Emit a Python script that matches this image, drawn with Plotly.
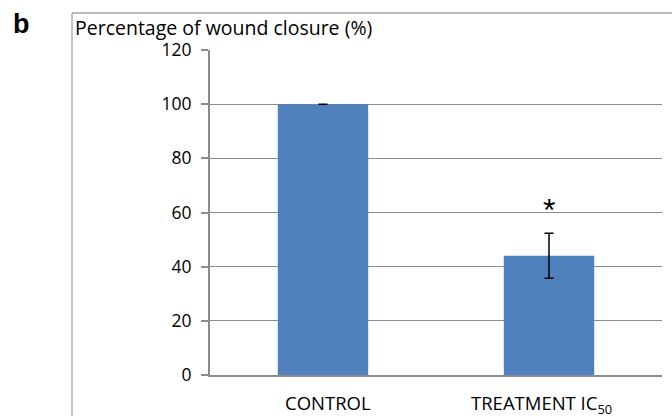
import plotly.graph_objects as go

# dados
categorias = ["CONTROL", "TREATMENT IC<sub>50</sub>"]
valores = [100, 44]
erros = [0, 8.3]
y_ticks = [0, 20, 40, 60, 80, 100, 120]
asterisco_y = 61

fig = go.Figure()

fig.add_trace(go.Bar(
    x=categorias,
    y=valores,
    width=0.4,
    marker=dict(color='#4F81BD', line=dict(width=0)),
    error_y=dict(type='data', array=erros, visible=True,
                 color='black', thickness=1.5, width=4.5),
    showlegend=False
))

# rótulos das categorias (como no Excel, ligeiramente deslocados)
for cat, dx in zip(categorias, [5, -8]):
    fig.add_annotation(x=cat, xref='x', yref='paper', y=-0.041, text=cat,
                       showarrow=False, xshift=dx, yanchor='top',
                       font=dict(size=18.5, color='black', family='Open Sans'))

# asterisco de significância
fig.add_annotation(x=categorias[1], y=asterisco_y, text="*", showarrow=False,
                   font=dict(size=32, color='black', family='Liberation Sans'),
                   yanchor='middle')

# letra do painel e título do eixo
fig.add_annotation(xref='paper', yref='paper', x=-0.44, y=1.08, text="<b>b</b>",
                   showarrow=False, xanchor='left', yanchor='middle',
                   font=dict(size=27, color='black', family='Liberation Sans'))
fig.add_annotation(xref='paper', yref='paper', x=-0.302, y=1.07,
                   text="Percentage of wound closure (%)",
                   showarrow=False, xanchor='left', yanchor='middle',
                   font=dict(size=19.5, color='black', family='Open Sans'))

# moldura (esquerda e topo)
fig.add_shape(type='line', xref='paper', yref='paper',
              x0=-0.3053, x1=-0.3053, y0=-0.2, y1=1.1138,
              line=dict(color='#a6a6a6', width=1.3))
fig.add_shape(type='line', xref='paper', yref='paper',
              x0=-0.3053, x1=1.05, y0=1.1138, y1=1.1138,
              line=dict(color='#a6a6a6', width=1.3))

fig.update_layout(
    width=672, height=416,
    margin=dict(l=210, r=10, t=50, b=41),
    plot_bgcolor='white', paper_bgcolor='white',
    font=dict(family='Open Sans', color='black'),
    bargap=0.6,
    xaxis=dict(
        showline=True, linecolor='#8c8c8c', linewidth=2,
        ticks='', showticklabels=False,
        showgrid=False, automargin=False
    ),
    yaxis=dict(
        range=[0, 120], tickvals=y_ticks,
        showline=True, linecolor='#8c8c8c', linewidth=2,
        ticks='outside', ticklen=7, tickcolor='#8c8c8c', tickwidth=1.5,
        tickfont=dict(size=17.5), ticklabelstandoff=6,
        showgrid=True, gridcolor='#8c8c8c', gridwidth=1.3,
        zeroline=False, automargin=False
    )
)

fig.write_html("out.html", config={'displayModeBar': False},
               post_script="document.body.style.margin='0';")
